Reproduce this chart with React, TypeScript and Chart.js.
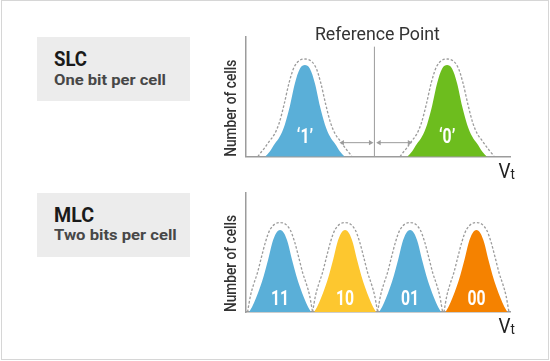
import React, { useEffect, useRef } from "react";
import { Chart, registerables } from "chart.js";

Chart.register(...registerables);

// ---------- SLC panel data (x: Vt 0..100, y: number of cells 0..100) ----------
const slcLabels = ["\u20181\u2019", "\u20180\u2019"];
const slcCenters = [22.4, 76.2];
const slcColors = ["#5aafd8", "#6dbd1e"];
const slcFillOffsets = [-15.1, -13.2, -11.4, -9.5, -7.6, -5.7, -3.8, -1.9, 0, 1.9, 3.8, 5.7, 7.6, 9.5, 11.4, 13.2, 15.1];
const slcFillHeights = [0, 4.6, 10.7, 16.8, 26.7, 42.0, 61.1, 73.3, 76.4, 73.3, 61.1, 42.0, 26.7, 16.8, 10.7, 4.6, 0];
const slcOutlineOffsets = [-17.8, -17.0, -15.1, -13.3, -11.5, -9.7, -7.9, -6.0, -4.0, 0, 4.0, 6.0, 7.9, 9.7, 11.5, 13.3, 15.1, 17.0, 17.8];
const slcOutlineHeights = [0, 2.5, 7.7, 13.3, 18.8, 28.3, 43.3, 61.5, 75.0, 81.4, 75.0, 61.5, 43.3, 28.3, 18.8, 13.3, 7.7, 2.5, 0];
const slcLabelY = 11.4;
const slcReference = 48.7;
const slcReferenceTop = 91.7;
const slcArrowY = 11.7;
const slcArrows = [
  [36.6, 47.2],
  [50.5, 61.9],
];

// ---------- MLC panel data ----------
const mlcLabels = ["11", "10", "01", "00"];
const mlcCenters = [13.0, 37.6, 62.2, 87.3];
const mlcColors = ["#5aafd8", "#fdc72f", "#5aafd8", "#f58200"];
const mlcFillOffsets = [-11.7, -10.6, -9.1, -7.6, -6.1, -4.5, -3.0, -1.5, 0, 1.5, 3.0, 4.5, 6.1, 7.6, 9.1, 10.6, 11.7];
const mlcFillHeights = [0, 4.1, 11.7, 20.6, 30.9, 44.0, 57.7, 66.0, 68.7, 66.0, 57.7, 44.0, 30.9, 20.6, 11.7, 4.1, 0];
const mlcOutlineOffsets = [-12.3, -11.2, -10.1, -8.6, -7.1, -5.5, -3.8, 0, 3.8, 5.5, 7.1, 8.6, 10.1, 11.2, 12.3];
const mlcOutlineHeights = [0, 13.6, 22.5, 32.5, 45.5, 58.8, 69.0, 75.0, 69.0, 58.8, 45.5, 32.5, 22.5, 13.6, 0];
const mlcLabelY = 5.9;

const axisTitle = "Number of cells";
const xAxisSymbol = "V";
const xAxisSubscript = "t";
const referenceText = "Reference Point";

const FONT = "Roboto, 'Liberation Sans', sans-serif";
const GRAY = "#9c9c9c";

const measureCtx = document.createElement("canvas").getContext("2d")!;
function fitScale(text: string, font: string, target: number) {
  measureCtx.font = font;
  const w = measureCtx.measureText(text).width;
  return w > 0 ? target / w : 1;
}

function drawText(
  ctx: CanvasRenderingContext2D,
  text: string,
  x: number,
  y: number,
  font: string,
  color: string,
  align: CanvasTextAlign,
  sx: number,
  rotate = 0
) {
  ctx.save();
  ctx.translate(x, y);
  if (rotate) ctx.rotate(rotate);
  ctx.scale(sx, 1);
  ctx.font = font;
  ctx.fillStyle = color;
  ctx.textAlign = align;
  ctx.textBaseline = "alphabetic";
  ctx.fillText(text, 0, 0);
  ctx.restore();
}

type Panel = {
  labels: string[];
  centers: number[];
  colors: string[];
  fillOffsets: number[];
  fillHeights: number[];
  outlineOffsets: number[];
  outlineHeights: number[];
  labelY: number;
  padding: { top: number; bottom: number; left: number; right: number };
  reference?: { x: number; top: number; arrowY: number; arrows: number[][] };
};

function buildChart(canvas: HTMLCanvasElement, p: Panel) {
  const datasets: any[] = [];
  p.centers.forEach((c, i) => {
    datasets.push({
      data: p.outlineOffsets.map((o, k) => ({ x: c + o, y: p.outlineHeights[k] })),
      borderColor: GRAY,
      borderWidth: 1.3,
      borderDash: [2.5, 1.8],
      fill: false,
      pointRadius: 0,
      cubicInterpolationMode: "monotone",
      order: 0,
    });
    datasets.push({
      data: p.fillOffsets.map((o, k) => ({ x: c + o, y: p.fillHeights[k] })),
      borderColor: "rgba(0,0,0,0)",
      borderWidth: 0,
      backgroundColor: p.colors[i],
      fill: "origin",
      pointRadius: 0,
      cubicInterpolationMode: "monotone",
      order: 1,
    });
  });
  if (p.reference) {
    const r = p.reference;
    datasets.push({
      data: [
        { x: r.x, y: 0 },
        { x: r.x, y: r.top },
      ],
      borderColor: GRAY,
      borderWidth: 1,
      pointRadius: 0,
      tension: 0,
      fill: false,
      order: 2,
    });
    r.arrows.forEach(([a, b]) => {
      datasets.push({
        data: [
          { x: a, y: r.arrowY },
          { x: b, y: r.arrowY },
        ],
        borderColor: GRAY,
        borderWidth: 1,
        tension: 0,
        fill: false,
        pointStyle: "triangle",
        pointRadius: 3,
        pointRotation: [-90, 90],
        pointBackgroundColor: GRAY,
        pointBorderColor: GRAY,
        pointBorderWidth: 0,
        order: 2,
      });
    });
  }

  const textPlugin = {
    id: "panelText",
    afterDatasetsDraw(chart: any) {
      const { ctx, chartArea, scales } = chart;
      const xs = scales.x;
      const ys = scales.y;
      const labelFont = `bold 21px ${FONT}`;
      p.labels.forEach((t, i) => {
        drawText(ctx, t, xs.getPixelForValue(p.centers[i]), ys.getPixelForValue(p.labelY), labelFont, "#ffffff", "center", 0.75);
      });
      // y axis title
      const yFont = `500 17px ${FONT}`;
      drawText(ctx, axisTitle, chartArea.left - 9.5, chartArea.bottom, yFont, "#333333", "left", fitScale(axisTitle, yFont, 97), -Math.PI / 2);
      // Vt
      const vFont = `21px ${FONT}`;
      const tFont = `15px ${FONT}`;
      const vx = chartArea.right - 11.5;
      const vy = chartArea.bottom + 21.3;
      const vs = fitScale(xAxisSymbol, vFont, 12);
      drawText(ctx, xAxisSymbol, vx, vy, vFont, "#222222", "left", vs);
      drawText(ctx, xAxisSubscript, vx + 12, vy + 0.5, tFont, "#222222", "left", 0.9);
      if (p.reference) {
        const rf = `18px ${FONT}`;
        drawText(ctx, referenceText, xs.getPixelForValue(p.reference.x) + 3, chartArea.top + 3.3, rf, "#333333", "center", fitScale(referenceText, rf, 125));
      }
    },
  };

  return new Chart(canvas, {
    type: "line",
    data: { datasets },
    options: {
      animation: false,
      responsive: false,
      events: [],
      layout: { padding: p.padding },
      plugins: { legend: { display: false }, tooltip: { enabled: false } },
      scales: {
        x: {
          type: "linear",
          min: 0,
          max: 100,
          ticks: { display: false },
          grid: { display: false, drawTicks: false },
          border: { display: true, color: GRAY, width: 1.5 },
        },
        y: {
          type: "linear",
          min: 0,
          max: 100,
          ticks: { display: false },
          grid: { display: false, drawTicks: false },
          border: { display: true, color: GRAY, width: 1.5 },
        },
      },
    },
    plugins: [textPlugin],
  } as any);
}

const slcPanel: Panel = {
  labels: slcLabels,
  centers: slcCenters,
  colors: slcColors,
  fillOffsets: slcFillOffsets,
  fillHeights: slcFillHeights,
  outlineOffsets: slcOutlineOffsets,
  outlineHeights: slcOutlineHeights,
  labelY: slcLabelY,
  padding: { top: 36.7, bottom: 23.3, left: 245.7, right: 40 },
  reference: { x: slcReference, top: slcReferenceTop, arrowY: slcArrowY, arrows: slcArrows },
};

const mlcPanel: Panel = {
  labels: mlcLabels,
  centers: mlcCenters,
  colors: mlcColors,
  fillOffsets: mlcFillOffsets,
  fillHeights: mlcFillHeights,
  outlineOffsets: mlcOutlineOffsets,
  outlineHeights: mlcOutlineHeights,
  labelY: mlcLabelY,
  padding: { top: 12.7, bottom: 49, left: 245.7, right: 40 },
};

function Box({ top, title, subtitle, titleW, subW }: { top: number; title: string; subtitle: string; titleW: number; subW: number }) {
  const tf = `bold 21px ${FONT}`;
  const sf = `bold 15.5px ${FONT}`;
  return (
    <div style={{ position: "absolute", left: 37, top, width: 153, height: 64, background: "#ececec" }}>
      <div
        style={{
          position: "absolute",
          left: 17,
          top: 12,
          font: tf,
          lineHeight: "21px",
          color: "#1a1a1a",
          whiteSpace: "nowrap",
          transform: `scaleX(${fitScale(title, tf, titleW)})`,
          transformOrigin: "left top",
        }}
      >
        {title}
      </div>
      <div
        style={{
          position: "absolute",
          left: 17,
          top: 35.5,
          font: sf,
          lineHeight: "15.5px",
          color: "#474747",
          whiteSpace: "nowrap",
          transform: `scaleX(${fitScale(subtitle, sf, subW)})`,
          transformOrigin: "left top",
        }}
      >
        {subtitle}
      </div>
    </div>
  );
}

export default function App() {
  const slcRef = useRef<HTMLCanvasElement>(null);
  const mlcRef = useRef<HTMLCanvasElement>(null);
  useEffect(() => {
    const a = buildChart(slcRef.current!, slcPanel);
    const b = buildChart(mlcRef.current!, mlcPanel);
    return () => {
      a.destroy();
      b.destroy();
    };
  }, []);
  return (
    <div style={{ position: "absolute", left: 0, top: 0, width: 550, height: 361, background: "#fff", overflow: "hidden", fontFamily: FONT }}>
      <div style={{ position: "absolute", left: 1, top: 0, width: 548, height: 360, boxSizing: "border-box", border: "1px solid #d6d6d6" }} />
      <Box top={37} title="SLC" subtitle="One bit per cell" titleW={33} subW={112} />
      <Box top={192.5} title="MLC" subtitle="Two bits per cell" titleW={40} subW={122.7} />
      <canvas ref={slcRef} width={550} height={180} style={{ position: "absolute", left: 0, top: 0, width: 550, height: 180 }} />
      <canvas ref={mlcRef} width={550} height={181} style={{ position: "absolute", left: 0, top: 180, width: 550, height: 181 }} />
    </div>
  );
}
